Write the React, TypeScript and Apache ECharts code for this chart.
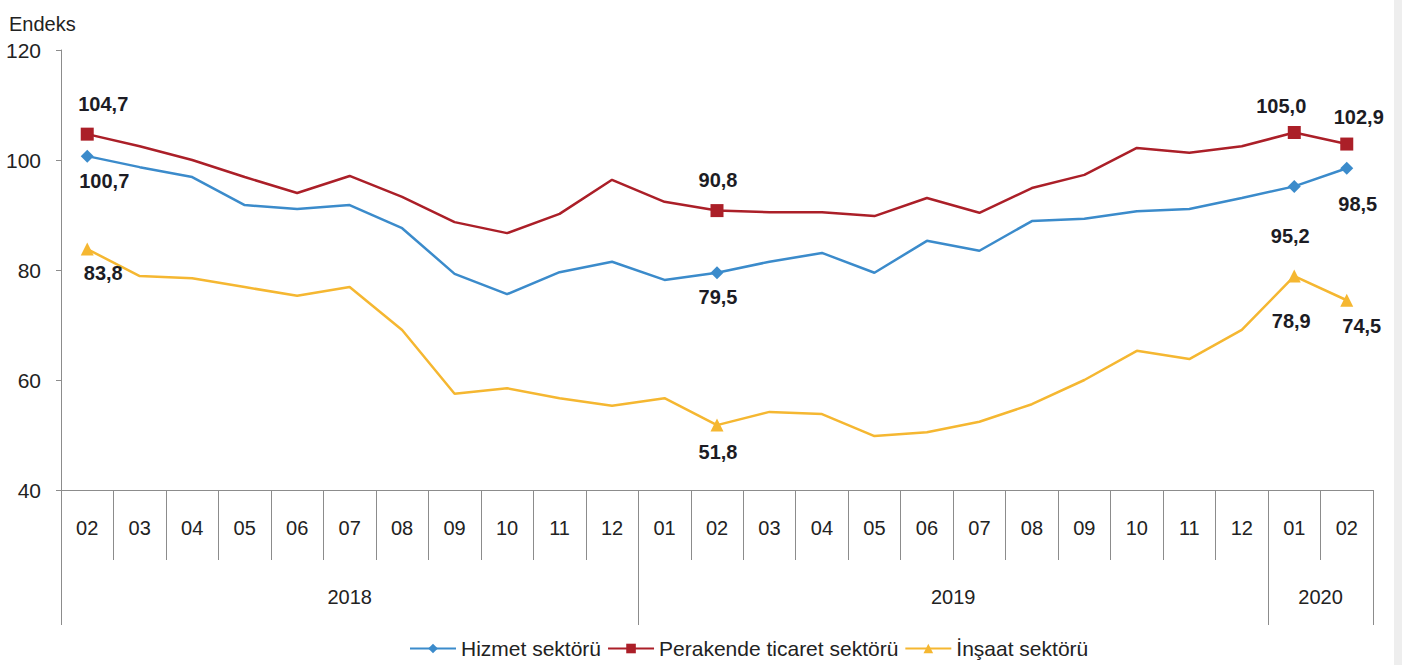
import React, { useEffect, useRef } from "react";
import * as echarts from "echarts";

const months = ["02","03","04","05","06","07","08","09","10","11","12","01","02","03","04","05","06","07","08","09","10","11","12","01","02"];
const years = ["2018", "2019", "2020"];
const yearBoundaries = [0, 11, 23, 25];
const yearCenters = [5.5, 17, 24];

const hizmet = [100.7, 98.7, 96.9, 91.8, 91.1, 91.8, 87.6, 79.3, 75.6, 79.6, 81.5, 78.2, 79.5, 81.5, 83.1, 79.5, 85.3, 83.5, 88.9, 89.3, 90.7, 91.1, 93.1, 95.2, 98.5];
const perakende = [104.7, 102.5, 100.0, 96.9, 94.0, 97.1, 93.3, 88.7, 86.7, 90.2, 96.4, 92.4, 90.8, 90.5, 90.5, 89.8, 93.1, 90.4, 94.9, 97.3, 102.2, 101.3, 102.5, 105.0, 102.9];
const insaat = [83.8, 78.9, 78.5, 76.9, 75.3, 76.9, 69.1, 57.5, 58.5, 56.7, 55.3, 56.7, 51.8, 54.2, 53.8, 49.8, 50.5, 52.4, 55.6, 60.0, 65.3, 63.8, 69.1, 78.9, 74.5];
const labeledIdx = [0, 12, 23, 24];

// label placement (px offsets from the marker) for the labeled points, per series
const hizmetLabelOffsets = [[17, 25], [1, 24], [-4, 50], [11, 36]];
const perakendeLabelOffsets = [[16, -30], [1, -31], [-13, -27], [12, -27]];
const insaatLabelOffsets = [[16, 24], [1, 27], [-3, 45], [15, 26]];

const FONT = "'Liberation Sans', Arial, sans-serif";

function fmt(v: number) {
  return v.toFixed(1).replace(".", ",");
}

function buildData(vals: number[], offsets: number[][]) {
  return vals.map((v, i) => {
    const k = labeledIdx.indexOf(i);
    return k >= 0
      ? { value: v, label: { show: true, position: "inside", offset: offsets[k] } }
      : { value: v, symbol: "none", label: { show: false } };
  });
}

export default function App() {
  const ref = useRef<HTMLDivElement>(null);
  useEffect(() => {
    document.body.style.margin = "0";
    if (!ref.current) return;
    const chart = echarts.init(ref.current, null, { renderer: "svg" });
    const labelBase = {
      show: true,
      fontFamily: FONT,
      fontWeight: "bold",
      fontSize: 20,
      color: "#1c1c24",
      formatter: (p: any) => fmt(p.value),
    };
    chart.setOption({
      animation: false,
      backgroundColor: "#ffffff",
      title: {
        text: "Endeks",
        left: 4,
        top: 9,
        textStyle: { fontFamily: FONT, fontSize: 20, fontWeight: "normal", color: "#222" },
      },
      grid: { left: 61, right: 29, top: 50, bottom: 175, containLabel: false },
      legend: {
        bottom: 1,
        left: 404,
        itemWidth: 46,
        itemHeight: 12,
        itemGap: 6,
        textStyle: { fontFamily: FONT, fontSize: 21, color: "#222" },
        data: ["Hizmet sektörü", "Perakende ticaret sektörü", "İnşaat sektörü"],
      },
      xAxis: [
        {
          type: "category",
          data: months,
          boundaryGap: true,
          position: "bottom",
          axisLine: { show: true, lineStyle: { color: "#8c8c8c", width: 1 } },
          axisTick: { show: true, interval: 0, length: 70, lineStyle: { color: "#8c8c8c" } },
          axisLabel: { interval: 0, margin: 28, fontFamily: FONT, fontSize: 20, color: "#222" },
          splitLine: { show: false },
        },
        {
          type: "value",
          min: 0,
          max: 25,
          position: "bottom",
          axisLine: { show: false },
          axisTick: {
            show: true,
            length: 135,
            customValues: yearBoundaries,
            lineStyle: { color: "#8c8c8c" },
          },
          axisLabel: {
            show: true,
            customValues: yearCenters,
            margin: 97,
            fontFamily: FONT,
            fontSize: 20,
            color: "#222",
            formatter: (v: number) => years[yearCenters.indexOf(v)] ?? "",
          },
          splitLine: { show: false },
        },
      ],
      yAxis: {
        type: "value",
        min: 40,
        max: 120,
        interval: 20,
        axisLine: { show: true, lineStyle: { color: "#8c8c8c" } },
        axisTick: { show: true, length: 5, lineStyle: { color: "#8c8c8c" } },
        axisLabel: { margin: 20, fontFamily: FONT, fontSize: 21, color: "#222" },
        splitLine: { show: false },
      },
      series: [
        {
          name: "Hizmet sektörü",
          type: "line",
          xAxisIndex: 0,
          data: buildData(hizmet, hizmetLabelOffsets),
          symbol: "diamond",
          symbolSize: 13,
          lineStyle: { color: "#3b8bcb", width: 2.5 },
          itemStyle: { color: "#3b8bcb" },
          label: labelBase,
        },
        {
          name: "Perakende ticaret sektörü",
          type: "line",
          xAxisIndex: 0,
          data: buildData(perakende, perakendeLabelOffsets),
          symbol: "rect",
          symbolSize: 13,
          lineStyle: { color: "#ab1f28", width: 2.5 },
          itemStyle: { color: "#ab1f28" },
          label: labelBase,
        },
        {
          name: "İnşaat sektörü",
          type: "line",
          xAxisIndex: 0,
          data: buildData(insaat, insaatLabelOffsets),
          symbol: "triangle",
          symbolSize: 13,
          lineStyle: { color: "#f5b731", width: 2.5 },
          itemStyle: { color: "#f5b731" },
          label: labelBase,
        },
      ],
    });
    return () => chart.dispose();
  }, []);
  return (
    <div style={{ position: "fixed", left: 0, top: 0, width: 1402, height: 665, background: "#fff" }}>
      <div ref={ref} style={{ position: "absolute", left: 0, top: 0, width: 1402, height: 665 }} />
      <div style={{ position: "absolute", left: 1394, top: 0, width: 8, height: 665, background: "#eeeeee" }} />
    </div>
  );
}
